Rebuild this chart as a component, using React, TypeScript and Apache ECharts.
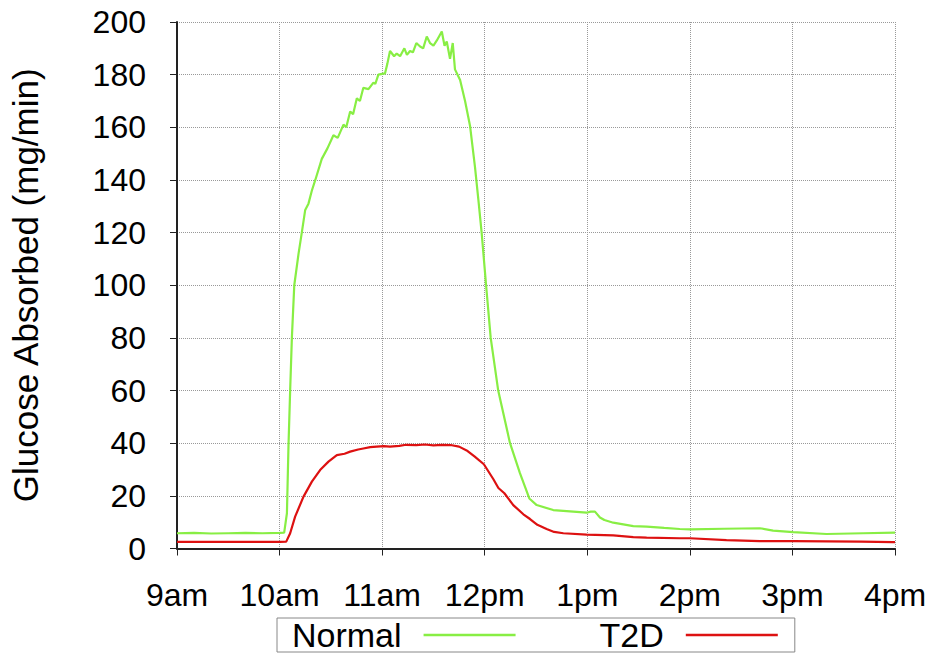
import React, { useEffect, useRef } from "react";
import * as echarts from "echarts";

// time in minutes after 9am, glucose absorbed (mg/min)
const tickLabels = ["9am", "10am", "11am", "12pm", "1pm", "2pm", "3pm", "4pm"];
const seriesNames = ["Normal", "T2D"];

const normalData: [number, number][] = [
  [0, 5.8], [10, 5.9], [20, 5.7], [30, 5.8], [40, 5.9], [50, 5.8], [60, 5.9], [62.7, 6.0],
  [64.3, 13.4], [65.2, 38.7], [66.2, 60.2], [67.2, 80], [68.6, 100], [71.1, 112], [73.0, 120],
  [75.0, 128.6], [76.9, 131], [78.9, 136], [80.9, 140], [84.7, 148], [88, 152], [91.5, 157],
  [94, 156], [97.4, 161], [99, 160], [101.3, 166], [103, 165], [105.2, 171], [107, 170],
  [109, 175], [112, 174.5], [114.9, 177], [116, 176.5], [117.8, 180], [121.7, 180.5], [123, 184],
  [124.6, 189], [127, 187], [128.5, 188], [130.5, 187], [133, 190], [134.5, 187.5], [136.3, 189],
  [138, 188.5], [140, 192], [142.2, 190.7], [144, 190], [146.1, 194.5], [148, 192], [150, 191],
  [152, 193], [154.9, 196.4], [156.5, 191], [157.8, 192.6], [159.7, 186], [161.3, 192],
  [162.6, 182], [165.6, 178], [168.5, 170], [171.4, 160.6], [174.3, 145], [176.3, 132.4],
  [178.2, 120], [180.8, 100], [183.5, 80], [187.9, 60], [194.8, 40], [200.6, 28.6],
  [206.1, 19], [210.4, 16.5], [220.1, 14.6], [231.8, 14], [239.6, 13.6], [242, 14],
  [244.5, 14], [247.4, 11.8], [250, 10.8], [255.2, 9.8], [266.9, 8.5], [274.7, 8.3],
  [285, 7.8], [294.1, 7.4], [300, 7.3], [320, 7.5], [340.9, 7.7], [348.7, 6.8],
  [360.4, 6.2], [379.9, 5.5], [401.3, 5.8], [420, 6.0],
];

const t2dData: [number, number][] = [
  [0, 2.5], [30, 2.5], [60, 2.5], [63.9, 2.6], [66.2, 5.8], [69.1, 12.1], [74, 19.7],
  [78.9, 25.4], [83.7, 29.8], [88.6, 33], [93.5, 35.5], [98, 36], [101.3, 36.8], [106, 37.6],
  [109, 38], [113, 38.5], [116.8, 38.7], [121, 38.9], [124.6, 38.7], [130, 39], [134, 39.4],
  [140, 39.3], [145, 39.5], [150, 39.2], [155, 39.4], [160, 39.3], [165, 38.7], [170, 37],
  [174, 35], [179.5, 32], [185, 26.4], [188, 23], [191.5, 21], [196.7, 16.5], [202.6, 13],
  [206.5, 11.2], [210.8, 9], [216.2, 7.4], [220.6, 6.3], [226, 5.8], [239.6, 5.3],
  [255.2, 5.0], [266.9, 4.3], [274.7, 4.1], [294.1, 3.9], [300, 3.9], [321.4, 3.2],
  [340.9, 2.8], [360.4, 2.8], [400, 2.6], [418.8, 2.4], [420, 2.4],
];

const FONT = "'Liberation Sans', Arial, Helvetica, sans-serif";

export default function App() {
  const ref = useRef<HTMLDivElement>(null);
  useEffect(() => {
    if (!ref.current) return;
    const chart = echarts.init(ref.current, undefined, { renderer: "svg" });
    chart.setOption({
      animation: false,
      backgroundColor: "#ffffff",
      textStyle: { fontFamily: FONT },
      grid: { left: 177, right: 39, top: 22, bottom: 105.5, containLabel: false },
      legend: {
        data: seriesNames,
        left: 277,
        top: 618,
        align: "right",
        icon: "rect",
        itemWidth: 92,
        itemHeight: 2.5,
        itemGap: 84,
        padding: [0, 17, 0, 15],
        borderColor: "#888",
        borderWidth: 1,
        textStyle: { fontSize: 34, color: "#000", fontFamily: FONT, padding: [0, 17, 0, 0] },
      },
      xAxis: {
        type: "value",
        min: 0,
        max: 420,
        interval: 60,
        axisLine: { lineStyle: { color: "#222", width: 2 } },
        axisTick: { show: true, length: 7, lineStyle: { color: "#222", width: 1 } },
        axisLabel: {
          margin: 30,
          fontSize: 32,
          color: "#000",
          fontFamily: FONT,
          formatter: (v: number) => tickLabels[Math.round(v / 60)] ?? "",
        },
        splitLine: { show: true, lineStyle: { type: "dotted", color: "#999", width: 1 } },
      },
      yAxis: {
        type: "value",
        min: 0,
        max: 200,
        interval: 20,
        name: "Glucose Absorbed (mg/min)",
        nameLocation: "middle",
        nameGap: 134,
        nameTextStyle: { fontSize: 35, color: "#000", fontFamily: FONT },
        axisLine: { show: true, lineStyle: { color: "#222", width: 2 } },
        axisTick: { show: true, length: 7, lineStyle: { color: "#222", width: 1 } },
        axisLabel: { margin: 31, fontSize: 32, color: "#000", fontFamily: FONT },
        splitLine: { show: true, lineStyle: { type: "dotted", color: "#999", width: 1 } },
      },
      series: [
        {
          name: seriesNames[0],
          type: "line",
          data: normalData,
          showSymbol: false,
          symbol: "none",
          lineStyle: { color: "#88ee44", width: 2.2 },
          itemStyle: { color: "#88ee44" },
        },
        {
          name: seriesNames[1],
          type: "line",
          data: t2dData,
          showSymbol: false,
          symbol: "none",
          lineStyle: { color: "#dd1111", width: 2.2 },
          itemStyle: { color: "#dd1111" },
        },
      ],
    });
    return () => chart.dispose();
  }, []);
  return (
    <div
      ref={ref}
      style={{ position: "fixed", left: 0, top: 0, width: 934, height: 654 }}
    />
  );
}
